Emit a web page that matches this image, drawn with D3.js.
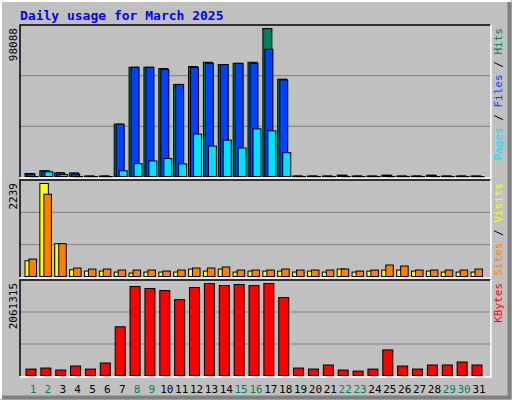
<!DOCTYPE html>
<meta charset="utf-8">
<script src="https://d3js.org/d3.v7.min.js"></script>
<style>
  body { margin: 0; }
  text { font-family: "DejaVu Sans Mono", monospace; }
</style>
<body>
<script>

var days = d3.range(1, 32);
var weekend = [1, 2, 8, 9, 15, 16, 22, 23, 29, 30];

var hits   = [2000, 3800, 2400, 2400, 300, 300, 34700, 72400, 72400, 71500, 61000, 72900, 75700, 74200, 75000, 75700, 98088, 64500,
              300, 300, 300, 900, 300, 300, 900, 300, 300, 900, 300, 300, 300];
var files  = [1600, 3600, 2400, 1600, 300, 300, 34700, 72400, 72400, 70900, 61000, 72200, 75000, 74200, 75000, 75000, 84300, 64000,
              300, 300, 300, 700, 300, 300, 700, 300, 300, 700, 300, 300, 300];
var pages  = [0, 3100, 1300, 0, 0, 0, 3800, 8550, 10300, 11900, 8400, 28100, 20200, 24100, 18900, 31600, 30300, 15800,
              0, 0, 0, 0, 0, 0, 0, 0, 0, 0, 0, 0, 0];
var visits = [380, 2239, 790, 162, 131, 131, 107, 82, 107, 107, 107, 179, 131, 179, 107, 131, 131, 131,
              107, 131, 107, 179, 107, 131, 155, 155, 131, 131, 107, 107, 107];
var sites  = [420, 1980, 790, 204, 179, 179, 155, 155, 155, 131, 155, 204, 204, 228, 155, 155, 155, 179,
              155, 155, 155, 179, 131, 155, 276, 252, 155, 155, 155, 155, 179];
var kbytes = [144000, 167000, 122000, 212000, 144000, 280000, 1091000, 1994000, 1949000, 1903000, 1700000, 1971000, 2061315, 2016000, 2039000, 2016000, 2061315, 1746000,
              167000, 144000, 235000, 122000, 99000, 144000, 573000, 212000, 144000, 235000, 235000, 302000, 235000];

var W = 512, H = 400;
var left = 20, right = 490;

var svg = d3.select("body").append("svg").attr("width", W).attr("height", H);

// background and bevel
svg.append("rect").attr("width", W).attr("height", H).style("fill", "#c0c0c0");
svg.append("path").attr("d", `M1,${H-1}V1H${W-1}`).style("fill", "none").style("stroke", "#ffffff").style("stroke-width", 2);
svg.append("path").attr("d", `M2,${H-2.5}H${W-2.5}V2`).style("fill", "none").style("stroke", "#808080").style("stroke-width", 4);

svg.append("text").attr("x", 20).attr("y", 20)
    .style("fill", "#0000ff").style("font-weight", "bold").style("font-size", "13px")
    .text("Daily usage for March 2025");

var x = d3.scaleLinear().domain([1, 31]).range([33, 479]);

function panel(top, bottom, maxVal, maxLabel, series, rightLabel) {
    var y = d3.scaleLinear().domain([0, maxVal]).range([bottom, top + 4]);
    var g = svg.append("g");
    g.append("rect").attr("x", left).attr("y", top).attr("width", right - left).attr("height", bottom - top)
        .style("fill", "#c0c0c0");
    [1, 2].forEach(function(k) {
        var gy = bottom - (bottom - top) * k / 3;
        g.append("line").attr("x1", left).attr("x2", right).attr("y1", gy).attr("y2", gy)
            .style("stroke", "#808080").style("stroke-width", 1);
    });
    series.forEach(function(s) {
        g.selectAll(null).data(days).enter().append("rect")
            .attr("x", d => x(d) + s.dx)
            .attr("y", d => y(s.values[d - 1]) - 0.5)
            .attr("width", s.w)
            .attr("height", d => Math.max(1, bottom - y(s.values[d - 1])))
            .style("fill", s.color).style("stroke", "#000").style("stroke-width", 1);
    });
    // frame
    g.append("path").attr("d", `M${left},${bottom}V${top}H${right}`).style("fill", "none").style("stroke", "#000").style("stroke-width", 1.5);
    g.append("path").attr("d", `M${left},${bottom + 1}H${right + 1}V${top}`).style("fill", "none").style("stroke", "#fff").style("stroke-width", 1.5);

    g.append("text").attr("transform", `translate(17,${top + 3}) rotate(-90)`)
        .style("text-anchor", "end").style("font-size", "11px").style("fill", "#000")
        .text(maxLabel);

    var t = g.append("text").attr("transform", `translate(502,${top + 3}) rotate(-90)`)
        .style("text-anchor", "end").style("font-size", "11px");
    rightLabel.forEach(function(p) {
        t.append("tspan").style("fill", p[1]).text(p[0]);
    });
}

panel(25, 177, 98088, "98088", [
    {values: hits,  color: "#00805c", dx: -8, w: 9},
    {values: files, color: "#0040ff", dx: -6, w: 8},
    {values: pages, color: "#00e0ff", dx: -3, w: 8}
], [["Pages", "#00e0ff"], [" / ", "#000"], ["Files", "#0040ff"], [" / ", "#000"], ["Hits", "#00805c"]]);

panel(180, 277, 2239, "2239", [
    {values: visits, color: "#ffff00", dx: -8, w: 8.5},
    {values: sites,  color: "#ff8000", dx: -4, w: 7.5}
], [["Sites", "#ff8000"], [" / ", "#000"], ["Visits", "#ffff00"]]);

panel(280, 376, 2061315, "2061315", [
    {values: kbytes, color: "#ff0000", dx: -7, w: 10}
], [["KBytes", "#ff0000"]]);

svg.selectAll(".day").data(days).enter().append("text")
    .attr("x", d => x(d)).attr("y", 393)
    .style("text-anchor", "middle").style("font-size", "11px")
    .style("fill", d => weekend.includes(d) ? "#00805c" : "#000")
    .text(d => d);

</script>
</body>
